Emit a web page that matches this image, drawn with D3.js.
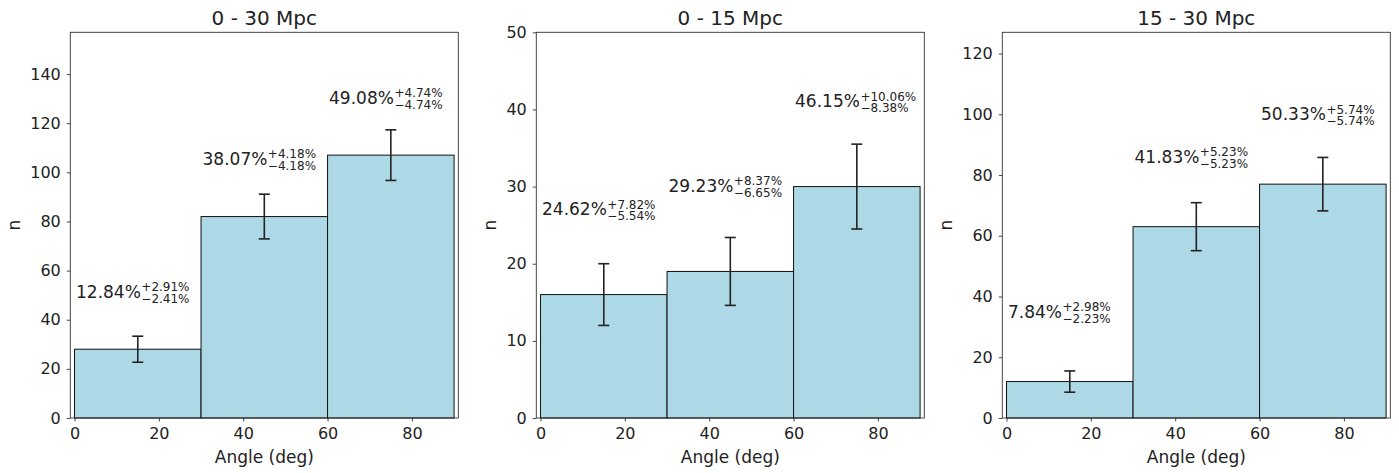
<!DOCTYPE html>
<html>
<head>
<meta charset="utf-8">
<script src="https://cdn.jsdelivr.net/npm/d3@7"></script>
<style>
  html, body { margin: 0; padding: 0; background: #fff; }
  svg { display: block; }
  text { font-family: "DejaVu Sans", sans-serif; fill: #222; }
</style>
</head>
<body>
<svg id="chart" width="1399" height="473"></svg>
<script>
// ---------- data ----------
const panelTitles = ["0 - 30 Mpc", "0 - 15 Mpc", "15 - 30 Mpc"];
const binEdges = [0, 30, 60, 90];
const xTicks = [0, 20, 40, 60, 80];

const counts_0_30 = [28, 82, 107];
const counts_0_15 = [16, 19, 30];
const counts_15_30 = [12, 63, 77];

const errors_0_30 = [5.3, 9.1, 10.3];
const errors_0_15 = [4.0, 4.4, 5.5];
const errors_15_30 = [3.5, 7.9, 8.8];

const pct_0_30 = ["12.84%", "38.07%", "49.08%"];
const pctUp_0_30 = ["+2.91%", "+4.18%", "+4.74%"];
const pctDn_0_30 = ["\u22122.41%", "\u22124.18%", "\u22124.74%"];

const pct_0_15 = ["24.62%", "29.23%", "46.15%"];
const pctUp_0_15 = ["+7.82%", "+8.37%", "+10.06%"];
const pctDn_0_15 = ["\u22125.54%", "\u22126.65%", "\u22128.38%"];

const pct_15_30 = ["7.84%", "41.83%", "50.33%"];
const pctUp_15_30 = ["+2.98%", "+5.23%", "+5.74%"];
const pctDn_15_30 = ["\u22122.23%", "\u22125.23%", "\u22125.74%"];

const yTicks_0_30 = [0, 20, 40, 60, 80, 100, 120, 140];
const yTicks_0_15 = [0, 10, 20, 30, 40, 50];
const yTicks_15_30 = [0, 20, 40, 60, 80, 100, 120];

const yMax = [157, 50, 127];
const labelOffset = [21, 10.3, 21];

const panels = [
  { title: panelTitles[0], counts: counts_0_30, errs: errors_0_30, pct: pct_0_30, up: pctUp_0_30, dn: pctDn_0_30, yTicks: yTicks_0_30, yMax: yMax[0], off: labelOffset[0] },
  { title: panelTitles[1], counts: counts_0_15, errs: errors_0_15, pct: pct_0_15, up: pctUp_0_15, dn: pctDn_0_15, yTicks: yTicks_0_15, yMax: yMax[1], off: labelOffset[1] },
  { title: panelTitles[2], counts: counts_15_30, errs: errors_15_30, pct: pct_15_30, up: pctUp_15_30, dn: pctDn_15_30, yTicks: yTicks_15_30, yMax: yMax[2], off: labelOffset[2] }
];

// ---------- layout ----------
const svg = d3.select("#chart");
const axW = 388, axTop = 32.3, axBottom = 418;
const lefts = [70.3, 536.3, 1002.3];

panels.forEach((p, i) => {
  const g = svg.append("g").attr("transform", `translate(${lefts[i]},0)`);
  const x = d3.scaleLinear().domain([-1, 91]).range([0, axW]);
  const y = d3.scaleLinear().domain([0, p.yMax]).range([axBottom, axTop]);

  const bins = p.counts.map((c, k) => ({ x0: binEdges[k], x1: binEdges[k + 1], n: c, e: p.errs[k], pct: p.pct[k], up: p.up[k], dn: p.dn[k] }));

  // bars
  g.selectAll("rect.bar").data(bins).enter().append("rect")
    .attr("class", "bar")
    .attr("x", d => x(d.x0))
    .attr("width", d => x(d.x1) - x(d.x0))
    .attr("y", d => y(d.n))
    .attr("height", d => y(0) - y(d.n))
    .attr("fill", "#add8e6")
    .attr("stroke", "#111")
    .attr("stroke-width", 1);

  // error bars
  const eb = g.selectAll("g.err").data(bins).enter().append("g").attr("class", "err");
  const cx = d => x((d.x0 + d.x1) / 2);
  eb.append("line").attr("x1", cx).attr("x2", cx)
    .attr("y1", d => y(d.n - d.e)).attr("y2", d => y(d.n + d.e));
  eb.append("line").attr("x1", d => cx(d) - 5.5).attr("x2", d => cx(d) + 5.5)
    .attr("y1", d => y(d.n - d.e)).attr("y2", d => y(d.n - d.e));
  eb.append("line").attr("x1", d => cx(d) - 5.5).attr("x2", d => cx(d) + 5.5)
    .attr("y1", d => y(d.n + d.e)).attr("y2", d => y(d.n + d.e));
  eb.selectAll("line").attr("stroke", "#222").attr("stroke-width", 1.6);

  // annotations
  bins.forEach(d => {
    const tx = x(d.x0) + 1.5, ty = y(d.n + p.off);
    const main = g.append("text").attr("x", tx).attr("y", ty)
      .attr("font-size", 17).text(d.pct);
    const w = main.node().getComputedTextLength();
    g.append("text").attr("x", tx + w + 0.5).attr("y", ty - 6.5)
      .attr("font-size", 12).text(d.up);
    g.append("text").attr("x", tx + w + 0.5).attr("y", ty + 5)
      .attr("font-size", 12).text(d.dn);
  });

  // axes
  const xa = g.append("g").attr("transform", `translate(0,${axBottom})`)
    .call(d3.axisBottom(x).tickValues(xTicks).tickSize(3.5).tickPadding(6).tickFormat(d3.format("d")));
  const ya = g.append("g")
    .call(d3.axisLeft(y).tickValues(p.yTicks).tickSize(3.5).tickPadding(6).tickFormat(d3.format("d")));
  [xa, ya].forEach(a => {
    a.select(".domain").remove();
    a.selectAll("line").attr("stroke", "#333").attr("stroke-width", 0.9);
    a.selectAll("text").attr("font-size", 16).attr("fill", "#222")
      .style("font-family", "DejaVu Sans, sans-serif");
  });

  // frame
  g.append("rect").attr("x", 0).attr("y", axTop).attr("width", axW).attr("height", axBottom - axTop)
    .attr("fill", "none").attr("stroke", "#333").attr("stroke-width", 0.9);

  // title and labels
  g.append("text").attr("x", axW / 2).attr("y", 25).attr("text-anchor", "middle")
    .attr("font-size", 20).text(p.title);
  g.append("text").attr("x", axW / 2).attr("y", 463).attr("text-anchor", "middle")
    .attr("font-size", 17).text("Angle (deg)");

  let maxTW = 0;
  ya.selectAll("text").each(function () { maxTW = Math.max(maxTW, this.getComputedTextLength()); });
  const lx = -(maxTW + 3.5 + 6 + 10.5);
  g.append("text").attr("transform", `translate(${lx},225) rotate(-90)`)
    .attr("text-anchor", "middle").attr("font-size", 17).text("n");
});
</script>
</body>
</html>
